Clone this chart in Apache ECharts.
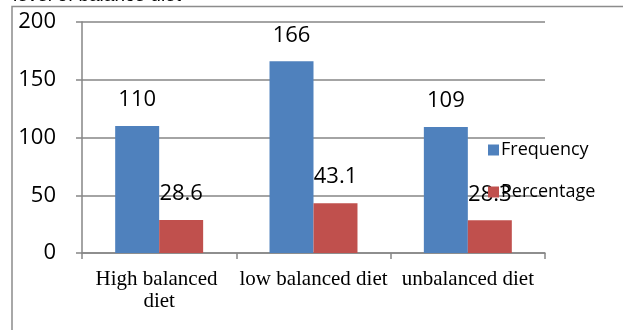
<!DOCTYPE html>
<html>
<head>
<meta charset="utf-8">
<script src="https://cdn.jsdelivr.net/npm/echarts@6/dist/echarts.min.js"></script>
<style>
  html, body { margin: 0; padding: 0; background: #fff; }
  #chart { width: 623px; height: 330px; }
</style>
</head>
<body>
<div id="chart"></div>
<script>
// Diet balance categories and their counts / shares
const categories = ['High balanced diet', 'low balanced diet', 'unbalanced diet'];
const frequency = [110, 166, 109];
const percentage = [28.6, 43.1, 28.3];
const yTicks = { min: 0, max: 200, interval: 50 };

const chart = echarts.init(document.getElementById('chart'), null, { renderer: 'canvas' });

const valueLabel = {
  show: true,
  position: 'top',
  distance: 15,
  color: '#000',
  fontFamily: 'Open Sans',
  fontSize: 22
};

chart.setOption({
  animation: false,
  backgroundColor: '#fff',
  graphic: [
    // heading line that runs off the top edge
    {
      type: 'text', left: 13, top: -14, silent: true,
      style: { text: 'level of balance diet', font: '19px Arial', fill: '#000' }
    },
    // chart-area frame
    {
      type: 'rect', silent: true, z: -1,
      shape: { x: 12, y: 6.5, width: 700, height: 400 },
      style: { fill: 'none', stroke: '#8c8c8c', lineWidth: 1.5 }
    }
  ],
  grid: { left: 82, right: 78, top: 22, bottom: 77, containLabel: false },
  legend: {
    orient: 'vertical',
    left: 483,
    top: 136,
    itemWidth: 11,
    itemHeight: 11,
    itemGap: 24,
    icon: 'rect',
    textStyle: { fontFamily: 'Open Sans', fontSize: 18, color: '#000', padding: [0, 0, 0, -3] },
    data: ['Frequency', 'Percentage']
  },
  xAxis: {
    type: 'category',
    data: categories,
    axisLine: { lineStyle: { color: '#868686', width: 1.5 } },
    axisTick: { show: true, length: 6, lineStyle: { color: '#868686', width: 1.5 } },
    axisLabel: {
      color: '#000',
      fontFamily: 'Liberation Serif',
      fontSize: 21,
      lineHeight: 22,
      margin: 15,
      width: 150,
      overflow: 'break',
      interval: 0
    }
  },
  yAxis: {
    type: 'value',
    min: yTicks.min,
    max: yTicks.max,
    interval: yTicks.interval,
    axisLine: { show: true, lineStyle: { color: '#868686', width: 1.5 } },
    axisTick: { show: true, length: 6, lineStyle: { color: '#868686', width: 1.5 } },
    splitLine: { lineStyle: { color: '#868686', width: 1.5 } },
    axisLabel: {
      color: '#000',
      fontFamily: 'Open Sans',
      fontSize: 22,
      margin: 26
    }
  },
  series: [
    {
      name: 'Frequency',
      type: 'bar',
      data: frequency,
      barGap: '0%',
      barCategoryGap: '43%',
      itemStyle: { color: '#4F81BD' },
      label: valueLabel
    },
    {
      name: 'Percentage',
      type: 'bar',
      data: percentage,
      itemStyle: { color: '#C0504D' },
      label: valueLabel
    }
  ]
});
</script>
</body>
</html>
